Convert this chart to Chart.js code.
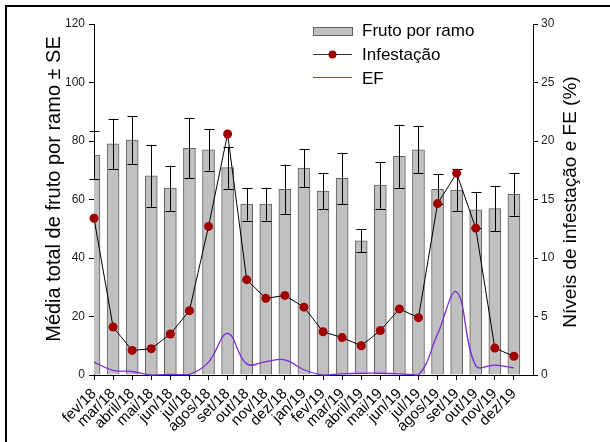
<!DOCTYPE html>
<html lang="pt">
<head>
<meta charset="UTF-8">
<title>Fruto por ramo, infestação e EF</title>
<style>
  body { margin: 0; background: #fff; }
  canvas { display: block; }
</style>
</head>
<body>
<canvas id="grafico" width="610" height="442"></canvas>
<script src="https://cdn.jsdelivr.net/npm/chart.js"></script>
<script>
const meses = ['fev/18', 'mar/18', 'abril/18', 'mai/18', 'jun/18', 'jul/18', 'agos/18', 'set/18',
  'out/18', 'nov/18', 'dez/18', 'jan/19', 'fev/19', 'mar/19', 'abril/19', 'mai/19', 'jun/19',
  'jul/19', 'agos/19', 'set/19', 'out/19', 'nov/19', 'dez/19'];
const frutoMedia = [75.2, 79.0, 80.3, 68.1, 63.9, 77.5, 77.0, 70.9, 58.4, 58.4, 63.5, 70.7,
  62.9, 67.2, 45.9, 64.9, 74.8, 77.0, 63.5, 63.2, 56.5, 56.9, 61.8];
const frutoSE = [8.3, 8.6, 8.3, 10.6, 7.7, 10.3, 7.1, 7.2, 5.6, 5.6, 8.4, 6.5,
  6.2, 8.8, 3.9, 8.0, 10.8, 8.0, 5.2, 7.1, 6.1, 7.8, 7.3];
const infestacao = [13.4, 4.1, 2.1, 2.25, 3.5, 5.5, 12.7, 20.6, 8.15, 6.55, 6.8, 5.8,
  3.7, 3.2, 2.5, 3.8, 5.65, 4.9, 14.65, 17.25, 12.55, 2.3, 1.6];
const ef = [1.1, 0.4, 0.3, 0, 0.05, 0.05, 1.1, 3.55, 0.95, 1.15, 1.3, 0.45,
  0, 0.1, 0.15, 0.15, 0.1, 0, 3.5, 7.1, 0.8, 0.85, 0.6];

const fonte = 'Arial, "Liberation Sans", sans-serif';
const corBarra = '#c0c0c0';
const corBordaBarra = '#606060';
const corPonto = '#a00000';
const corEF = '#7a2fd8';

// barras de erro (media +- SE) desenhadas logo depois das barras
const errosPlugin = {
  id: 'erros',
  afterDatasetDraw(chart, args) {
    if (args.index !== 0) return;
    const ctx = chart.ctx;
    const x = chart.scales.x, y = chart.scales.y;
    ctx.save();
    ctx.strokeStyle = '#000';
    ctx.lineWidth = 1;
    frutoMedia.forEach(function(m, i) {
      const px = Math.round(x.getPixelForValue(i)) + 0.5;
      const top = y.getPixelForValue(m + frutoSE[i]);
      const bot = y.getPixelForValue(m - frutoSE[i]);
      ctx.beginPath();
      ctx.moveTo(px, top); ctx.lineTo(px, bot);
      ctx.moveTo(px - 5, Math.round(top) + 0.5); ctx.lineTo(px + 5, Math.round(top) + 0.5);
      ctx.moveTo(px - 5, Math.round(bot) + 0.5); ctx.lineTo(px + 5, Math.round(bot) + 0.5);
      ctx.stroke();
    });
    ctx.restore();
  }
};

// moldura, titulos dos eixos e legenda
const extrasPlugin = {
  id: 'extras',
  beforeDraw(chart) {
    const ctx = chart.ctx;
    ctx.save();
    ctx.fillStyle = '#fff';
    ctx.fillRect(0, 0, chart.width, chart.height);
    ctx.fillStyle = '#000';
    ctx.fillRect(5, 5, chart.width - 5, 2);
    ctx.fillRect(5, 5, 2, chart.height - 5);
    ctx.restore();
  },
  afterDraw(chart) {
    const ctx = chart.ctx;
    ctx.save();
    ctx.fillStyle = '#000';
    ctx.font = '20px ' + fonte;
    ctx.textAlign = 'center';
    ctx.textBaseline = 'middle';
    ctx.translate(54, 189);
    ctx.rotate(-Math.PI / 2);
    ctx.fillText('Média total de fruto por ramo ± SE', 0, 0);
    ctx.restore();

    ctx.save();
    ctx.fillStyle = '#000';
    ctx.font = '19px ' + fonte;
    ctx.textAlign = 'center';
    ctx.textBaseline = 'middle';
    ctx.translate(571, 202);
    ctx.rotate(-Math.PI / 2);
    ctx.fillText('Níveis de infestação e FE (%)', 0, 0);
    ctx.restore();

    // legenda
    const lx = 313, tx = 362;
    ctx.save();
    ctx.font = '17px ' + fonte;
    ctx.textBaseline = 'middle';
    ctx.fillStyle = corBarra;
    ctx.fillRect(lx, 27, 39, 8);
    ctx.strokeStyle = corBordaBarra;
    ctx.lineWidth = 1;
    ctx.strokeRect(lx + 0.5, 27.5, 39, 8);
    ctx.fillStyle = '#000';
    ctx.fillText('Fruto por ramo', tx, 31);

    ctx.strokeStyle = '#333';
    ctx.beginPath();
    ctx.moveTo(lx, 54.5); ctx.lineTo(lx + 39, 54.5);
    ctx.stroke();
    ctx.fillStyle = corPonto;
    ctx.beginPath();
    ctx.arc(lx + 19.5, 54.5, 4, 0, Math.PI * 2);
    ctx.fill();
    ctx.fillStyle = '#000';
    ctx.fillText('Infestação', tx, 55);

    ctx.strokeStyle = corEF;
    ctx.beginPath();
    ctx.moveTo(lx, 77.5); ctx.lineTo(lx + 39, 77.5);
    ctx.stroke();
    ctx.fillStyle = '#000';
    ctx.fillText('EF', tx, 79);
    ctx.restore();
  }
};

const eixoGrade = { drawOnChartArea: false, tickLength: 5, color: '#000', offset: false };

new Chart(document.getElementById('grafico'), {
  type: 'bar',
  data: {
    datasets: [{
      type: 'bar',
      label: 'Fruto por ramo',
      data: frutoMedia.map((v, i) => ({ x: i, y: v })),
      backgroundColor: corBarra,
      borderColor: corBordaBarra,
      borderWidth: 1,
      barThickness: 12,
      yAxisID: 'y',
      order: 3
    }, {
      type: 'line',
      label: 'EF',
      data: ef.map((v, i) => ({ x: i, y: v })),
      borderColor: corEF,
      borderWidth: 1.3,
      pointRadius: 0,
      tension: 0.4,
      clip: false,
      yAxisID: 'y1',
      order: 2
    }, {
      type: 'line',
      label: 'Infestação',
      data: infestacao.map((v, i) => ({ x: i, y: v })),
      borderColor: '#000',
      borderWidth: 1,
      pointRadius: 4.5,
      pointBorderWidth: 0,
      pointBackgroundColor: corPonto,
      tension: 0,
      clip: false,
      yAxisID: 'y1',
      order: 1
    }]
  },
  options: {
    responsive: false,
    animation: false,
    devicePixelRatio: 1,
    layout: { padding: { top: 24, left: 0, right: 0, bottom: 0 } },
    plugins: { legend: { display: false }, tooltip: { enabled: false } },
    scales: {
      x: {
        type: 'linear',
        min: 0,
        max: 23,
        offset: false,
        grid: eixoGrade,
        border: { color: '#000', width: 1 },
        afterBuildTicks: function(s) { s.ticks = meses.map((m, i) => ({ value: i })); },
        afterFit: function(s) { s.height = 67; },
        ticks: {
          autoSkip: false,
          minRotation: 45,
          maxRotation: 45,
          padding: 5,
          color: '#000',
          font: { family: fonte, size: 15 },
          callback: function(v) { return meses[v]; }
        }
      },
      y: {
        position: 'left',
        min: 0,
        max: 120,
        grid: eixoGrade,
        border: { color: '#000', width: 1 },
        afterFit: function(s) { s.width = 94; },
        ticks: { stepSize: 20, padding: 4, color: '#222', font: { family: fonte, size: 12 } }
      },
      y1: {
        position: 'right',
        min: 0,
        max: 30,
        grid: eixoGrade,
        border: { color: '#000', width: 1 },
        afterFit: function(s) { s.width = 77; },
        ticks: { stepSize: 5, padding: 3, color: '#222', font: { family: fonte, size: 12 } }
      }
    }
  },
  plugins: [errosPlugin, extrasPlugin]
});
</script>
</body>
</html>
